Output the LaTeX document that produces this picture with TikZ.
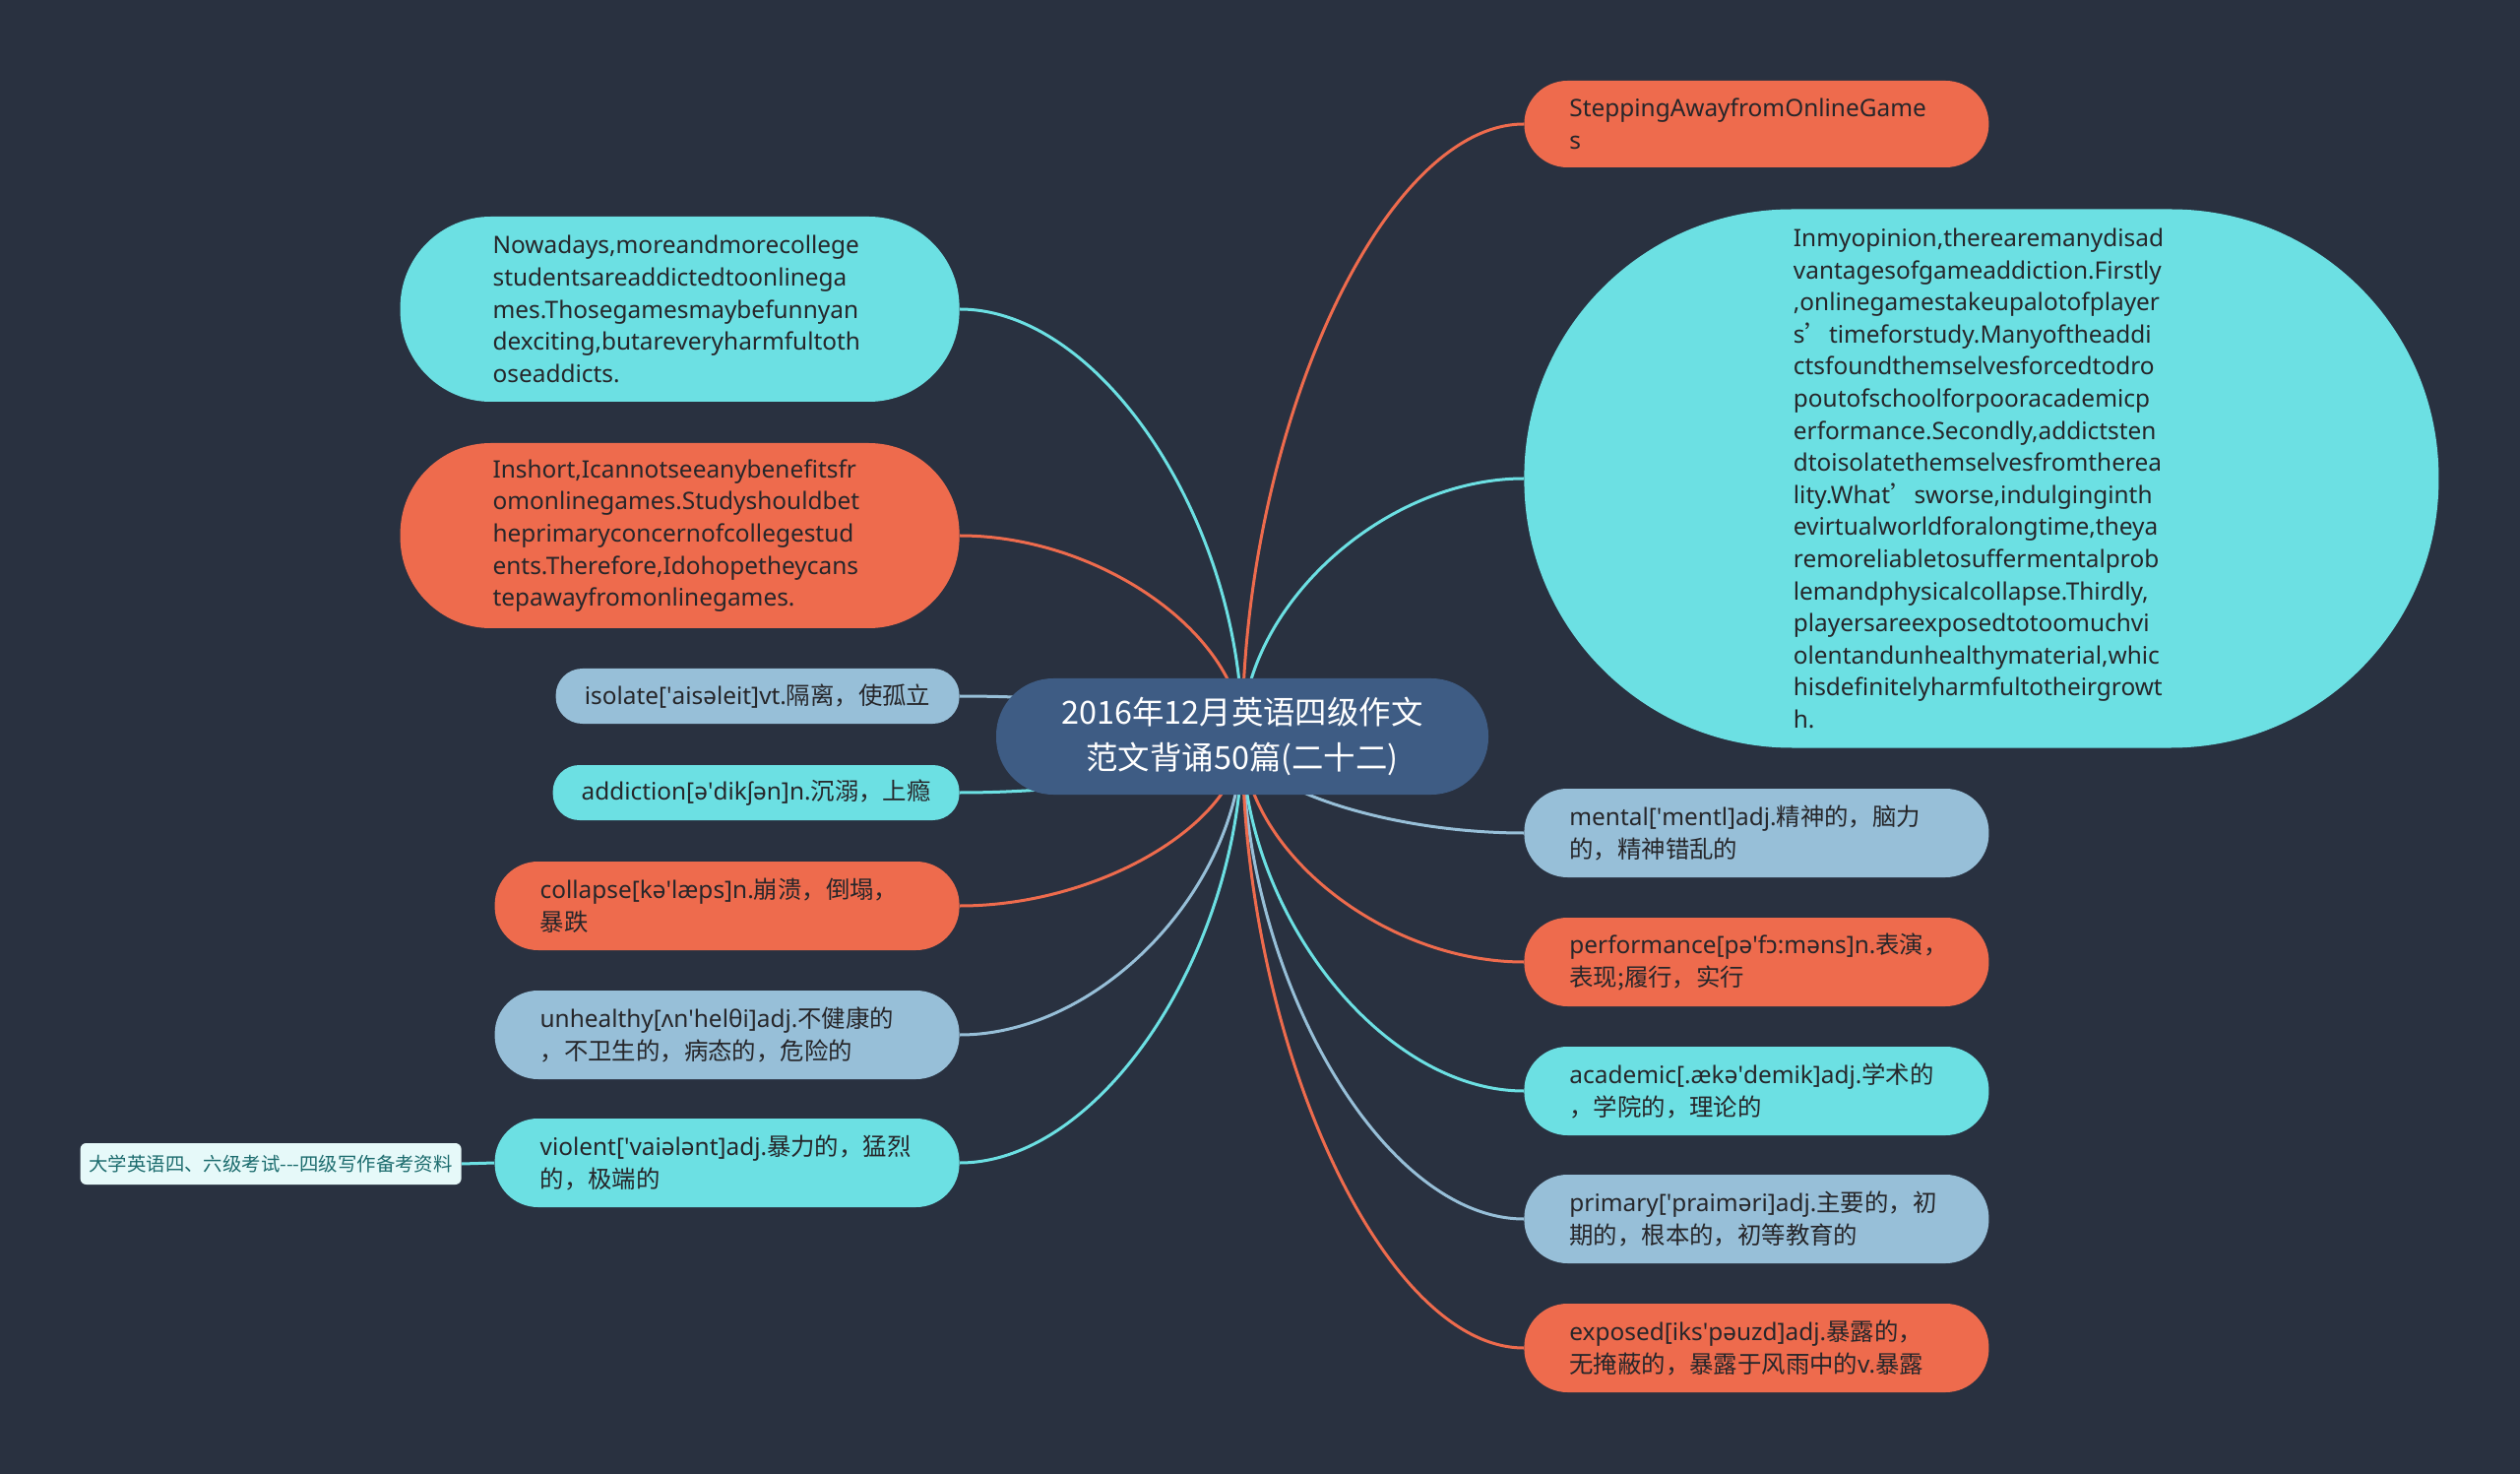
\documentclass[tikz,border=0pt]{standalone}
\usepackage{fontspec}
\setmainfont{Noto Sans}
\newfontfamily\cjk{Noto Sans CJK SC}
\usetikzlibrary{calc}

\definecolor{bgnavy}{RGB}{41,49,64}
\definecolor{hueorange}{RGB}{238,107,77}
\definecolor{huecyan}{RGB}{108,224,227}
\definecolor{hueblue}{RGB}{151,191,216}
\definecolor{rootblue}{RGB}{62,92,132}
\definecolor{inkdark}{RGB}{38,38,42}
\definecolor{leaffill}{RGB}{230,249,249}
\definecolor{leafink}{RGB}{28,108,110}

\newcommand\tick{\textquotesingle}

\pgfdeclarelayer{bg}
\pgfdeclarelayer{links}
\pgfsetlayers{bg,links,main}

\begin{document}
\begin{tikzpicture}[
  x=0.5pt, y=-0.5pt,
  pill/.style={rectangle, inner sep=0pt, text=inkdark, font=\fontsize{12.2}{16.3}\selectfont},
  para/.style={pill, minimum width=284pt, minimum height=94pt, rounded corners=46pt, text width=190pt, align=left},
  word/.style={pill, minimum width=236pt, minimum height=45pt, rounded corners=22pt, text width=190pt, align=left},
  tag/.style={pill, minimum height=28pt, rounded corners=13.5pt, align=center},
  hub/.style={rectangle, inner sep=0pt, fill=rootblue, minimum width=250pt, minimum height=59pt,
    rounded corners=29pt, text=white, align=center, font=\cjk\fontsize{16.2}{23}\selectfont},
  leaf/.style={rectangle, inner sep=0pt, fill=leaffill, text=leafink, minimum width=193.5pt,
    minimum height=21pt, rounded corners=3pt, font=\cjk\fontsize{9.7}{11}\selectfont},
  branch/.style={line width=1.5pt, to path={
    .. controls ($(\tikztostart)!0.5!(\tikztostart |- \tikztotarget)$)
    and ($(\tikztotarget)!0.5!(\tikztostart |- \tikztotarget)$) .. (\tikztotarget)}}
]
  \useasboundingbox (0,0) rectangle (2560,1497);
  \begin{pgfonlayer}{bg}
    \fill[bgnavy] (0,0) rectangle (2560,1497);
  \end{pgfonlayer}

  % Root
  \node[hub] (root) at (1262,748) {2016年12月英语四级作文\\范文背诵50篇(二十二)};

  % Right side
  \node[word, fill=hueorange, minimum height=44pt, anchor=west] (step) at (1548,126)
    {SteppingAwayfromOnlineGame\\s};
  \node[pill, fill=huecyan, minimum width=464.5pt, minimum height=273.5pt, rounded corners=136pt,
    text width=191pt, align=left, anchor=west] (essay) at (1548,486)
    {Inmyopinion,therearemanydisad\\vantagesofgameaddiction.Firstly\\,onlinegamestakeupalotofplayer\\
     s{\cjk ’}timeforstudy.Manyoftheaddi\\ctsfoundthemselvesforcedtodro\\poutofschoolforpooracademicp\\
     erformance.Secondly,addictsten\\dtoisolatethemselvesfromtherea\\lity.What{\cjk ’}sworse,indulginginth\\
     evirtualworldforalongtime,theya\\remoreliabletosuffermentalprob\\lemandphysicalcollapse.Thirdly,\\
     playersareexposedtotoomuchvi\\olentandunhealthymaterial,whic\\hisdefinitelyharmfultotheirgrowt\\h.};
  \node[word, fill=hueblue, anchor=west] (mental) at (1548,846)
    {mental[\tick mentl]adj.{\cjk 精神的，脑力\\的，精神错乱的}};
  \node[word, fill=hueorange, anchor=west] (perform) at (1548,977)
    {performance[pə\tick fɔ:məns]n.{\cjk 表演，\\表现;履行，实行}};
  \node[word, fill=huecyan, anchor=west] (academic) at (1548,1108)
    {academic[.ækə\tick demik]adj.{\cjk 学术的\\，学院的，理论的}};
  \node[word, fill=hueblue, anchor=west] (primary) at (1548,1238)
    {primary[\tick praiməri]adj.{\cjk 主要的，初\\期的，根本的，初等教育的}};
  \node[word, fill=hueorange, anchor=west] (exposed) at (1548,1369)
    {exposed[iks\tick pəuzd]adj.{\cjk 暴露的，\\无掩蔽的，暴露于风雨中的}v.{\cjk 暴露}};

  % Left side
  \node[para, fill=huecyan, anchor=east] (nowadays) at (975,314)
    {Nowadays,moreandmorecollege\\studentsareaddictedtoonlinega\\mes.Thosegamesmaybefunnyan\\dexciting,butareveryharmfultoth\\oseaddicts.};
  \node[para, fill=hueorange, anchor=east] (inshort) at (975,544)
    {Inshort,Icannotseeanybenefitsfr\\omonlinegames.Studyshouldbet\\heprimaryconcernofcollegestud\\ents.Therefore,Idohopetheycans\\tepawayfromonlinegames.};
  \node[tag, fill=hueblue, minimum width=205pt, anchor=east] (isolate) at (975,707)
    {isolate[\tick aisəleit]vt.{\cjk 隔离，使孤立}};
  \node[tag, fill=huecyan, minimum width=206.5pt, anchor=east] (addiction) at (975,805)
    {addiction[ə\tick dikʃən]n.{\cjk 沉溺，上瘾}};
  \node[word, fill=hueorange, anchor=east] (collapse) at (975,920)
    {collapse[kə\tick læps]n.{\cjk 崩溃，倒塌，\\暴跌}};
  \node[word, fill=hueblue, anchor=east] (unhealthy) at (975,1051)
    {unhealthy[ʌn\tick helθi]adj.{\cjk 不健康的\\，不卫生的，病态的，危险的}};
  \node[word, fill=huecyan, anchor=east] (violent) at (975,1181)
    {violent[\tick vaiələnt]adj.{\cjk 暴力的，猛烈\\的，极端的}};
  \node[leaf, anchor=east] (source) at (469,1182) {大学英语四、六级考试-{}-{}-四级写作备考资料};

  % Connectors (curves from the root centre, behind the nodes)
  \begin{pgfonlayer}{links}
    \draw[branch, hueorange] (root.center) to (step.west);
    \draw[branch, huecyan]   (root.center) to (essay.west);
    \draw[branch, hueblue]   (root.center) to (mental.west);
    \draw[branch, hueorange] (root.center) to (perform.west);
    \draw[branch, huecyan]   (root.center) to (academic.west);
    \draw[branch, hueblue]   (root.center) to (primary.west);
    \draw[branch, hueorange] (root.center) to (exposed.west);
    \draw[branch, huecyan]   (root.center) to (nowadays.east);
    \draw[branch, hueorange] (root.center) to (inshort.east);
    \draw[branch, hueblue]   (root.center) to (isolate.east);
    \draw[branch, huecyan]   (root.center) to (addiction.east);
    \draw[branch, hueorange] (root.center) to (collapse.east);
    \draw[branch, hueblue]   (root.center) to (unhealthy.east);
    \draw[branch, huecyan]   (root.center) to (violent.east);
    \draw[line width=1.5pt, huecyan] (violent.west) -- (source.east);
  \end{pgfonlayer}
\end{tikzpicture}
\end{document}
